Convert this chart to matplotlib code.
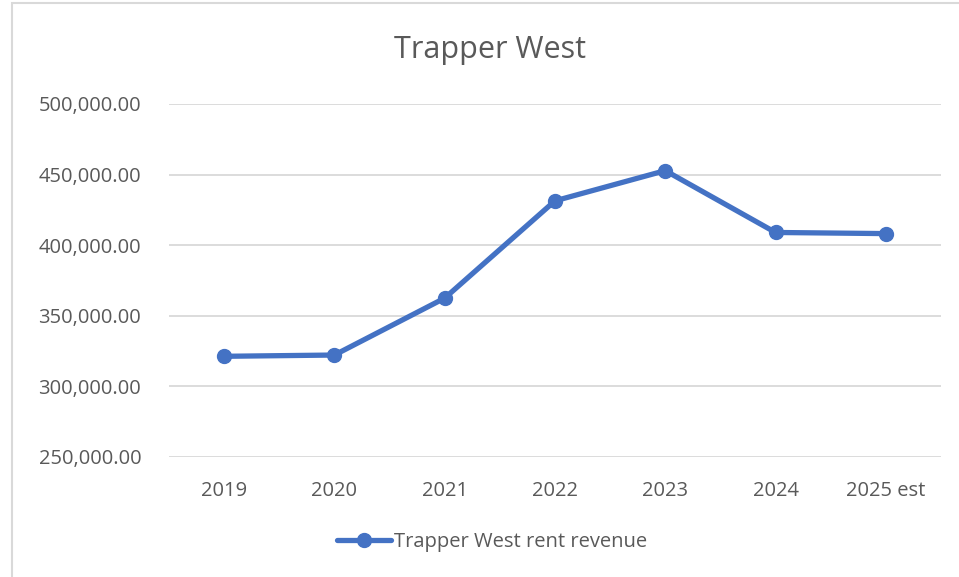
import matplotlib.pyplot as plt
from matplotlib.patches import Rectangle
from matplotlib.ticker import FuncFormatter

years = ['2019', '2020', '2021', '2022', '2023', '2024', '2025 est']
revenue = [321300, 322200, 362500, 431400, 452800, 409000, 408200]
series_name = 'Trapper West rent revenue'

plt.rcParams['font.family'] = ['Open Sans', 'DejaVu Sans']
text_color = '#595959'

fig = plt.figure(figsize=(9.59, 5.77), dpi=100)
ax = fig.add_axes([0.1762, 0.2080, 0.805, 0.6118])

# chart border
fig.patches.append(Rectangle((12 / 959, -0.05), 1.0, 1 - 3 / 577 + 0.05,
                             transform=fig.transFigure, fill=False,
                             edgecolor='#D9D9D9', linewidth=1.5))

x = range(len(years))
ax.plot(x, revenue, color='#4472C4', linewidth=3.8, marker='o',
        markersize=10, label=series_name, solid_capstyle='round')

ax.set_xlim(-0.5, len(years) - 0.5)
ax.set_ylim(250000, 500000)
ax.set_yticks(range(250000, 500001, 50000))
ax.yaxis.set_major_formatter(FuncFormatter(lambda v, p: f'{v:,.2f}'))
ax.set_xticks(list(x))
ax.set_xticklabels(years)

ax.grid(axis='y', color='#D9D9D9', linewidth=1.3)
ax.set_axisbelow(True)
for s in ax.spines.values():
    s.set_visible(False)
ax.tick_params(axis='both', length=0, labelsize=14.5, colors=text_color)
ax.tick_params(axis='y', pad=20)
ax.tick_params(axis='x', pad=17)

fig.text(0.511, 1 - 50 / 577, 'Trapper West', ha='center', va='center',
         fontsize=22, color=text_color)

fig.legend(loc='center', bbox_to_anchor=(0.513, 1 - 542 / 577), frameon=False,
           fontsize=14.5, labelcolor=text_color, handlelength=2.7,
           handletextpad=0.15)

fig.savefig('out.png', dpi=100)
